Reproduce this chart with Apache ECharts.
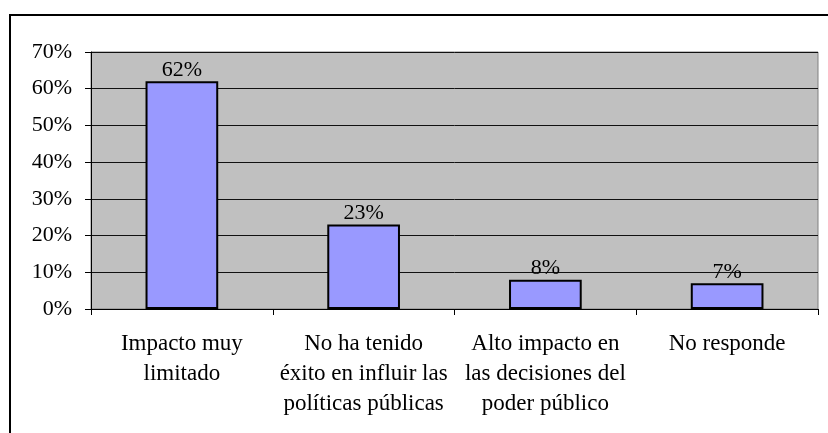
<!DOCTYPE html>
<html>
<head>
<meta charset="utf-8">
<script src="https://cdn.jsdelivr.net/npm/echarts@6/dist/echarts.min.js"></script>
<style>
  html, body { margin: 0; padding: 0; background: #fff; overflow: hidden; }
  .frame {
    position: absolute; left: 9px; top: 14px; width: 900px; height: 500px;
    border-left: 2px solid #000; border-top: 2px solid #000;
  }
  #chart { position: absolute; left: 0; top: 0; width: 828px; height: 433px; }
</style>
</head>
<body>
<div class="frame"></div>
<div id="chart"></div>
<script>
// categories and values
const categories = [
  'Impacto muy\nlimitado',
  'No ha tenido\néxito en influir las\npolíticas públicas',
  'Alto impacto en\nlas decisiones del\npoder público',
  'No responde'
]
const shares = [62, 23, 8, 7]
const yTicks = [0, 10, 20, 30, 40, 50, 60, 70]

const font = '"Liberation Serif", "DejaVu Serif", serif'

const chart = echarts.init(document.getElementById('chart'))
chart.setOption({
  animation: false,
  grid: { left: 91, right: 10, top: 52, bottom: 124, show: true, backgroundColor: '#c0c0c0', borderColor: '#808080', borderWidth: 1 },
  xAxis: {
    type: 'category',
    data: categories,
    axisLine: { lineStyle: { color: '#000', width: 1 } },
    axisTick: { show: true, length: 6, alignWithLabel: false, lineStyle: { color: '#000' } },
    axisLabel: { color: '#000', fontFamily: font, fontSize: 23, lineHeight: 30, margin: 20, interval: 0 }
  },
  yAxis: {
    type: 'value',
    min: yTicks[0],
    max: yTicks[yTicks.length - 1],
    interval: 10,
    axisLine: { show: true, lineStyle: { color: '#000', width: 1 } },
    axisTick: { show: true, length: 6, lineStyle: { color: '#000' } },
    axisLabel: { color: '#000', fontFamily: font, fontSize: 22, margin: 19, formatter: '{value}%' },
    splitLine: { lineStyle: { color: '#111', width: 1 } }
  },
  series: [{
    type: 'bar',
    data: shares,
    barWidth: '40%',
    itemStyle: { color: '#9999ff', borderColor: '#000', borderWidth: 2 },
    label: {
      show: true, position: 'top', distance: 0,
      color: '#000', fontFamily: font, fontSize: 22,
      formatter: '{c}%'
    }
  }]
})
</script>
</body>
</html>
